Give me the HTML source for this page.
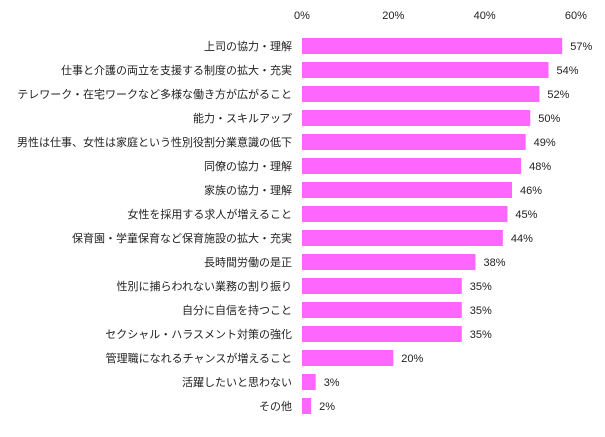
<!DOCTYPE html>
<html><head><meta charset="utf-8"><style>
body{margin:0;background:#fff;}
svg text{font-family:"Liberation Sans","Noto Sans CJK JP",sans-serif;font-size:11px;fill:#222;}
</style></head><body>
<svg width="605" height="432" xmlns="http://www.w3.org/2000/svg">
<g id="ticks"></g>
<g id="bars"></g>
</svg>
<script>
const categories=["上司の協力・理解","仕事と介護の両立を支援する制度の拡大・充実","テレワーク・在宅ワークなど多様な働き方が広がること","能力・スキルアップ","男性は仕事、女性は家庭という性別役割分業意識の低下","同僚の協力・理解","家族の協力・理解","女性を採用する求人が増えること","保育園・学童保育など保育施設の拡大・充実","長時間労働の是正","性別に捕らわれない業務の割り振り","自分に自信を持つこと","セクシャル・ハラスメント対策の強化","管理職になれるチャンスが増えること","活躍したいと思わない","その他"];
const values=[57,54,52,50,49,48,46,45,44,38,35,35,35,20,3,2];
const tickValues=[0,20,40,60];
const tickLabels=["0%","20%","40%","60%"];
const NS="http://www.w3.org/2000/svg";
const x0=302,scale=4.565,top0=38,step=24,bh=16;
const xs=v=>x0+v*scale;
const ticks=document.getElementById('ticks'),bars=document.getElementById('bars');
tickValues.forEach((v,i)=>{
  const t=document.createElementNS(NS,'text');
  
  
  t.setAttribute('x',xs(v));t.setAttribute('y',19);t.setAttribute('text-anchor','middle');
  t.textContent=tickLabels[i];ticks.appendChild(t);
});
categories.forEach((c,i)=>{
  const y=top0+i*step;
  const r=document.createElementNS(NS,'rect');
  
  
  r.setAttribute('x',x0);r.setAttribute('y',y);r.setAttribute('width',xs(values[i])-x0);r.setAttribute('height',bh);r.setAttribute('fill','#ff66ff');
  bars.appendChild(r);
  const l=document.createElementNS(NS,'text');
  
  
  l.setAttribute('x',292);l.setAttribute('y',y+12);l.setAttribute('text-anchor','end');
  l.textContent=c;bars.appendChild(l);
  const v=document.createElementNS(NS,'text');
  
  
  v.setAttribute('x',xs(values[i])+8);v.setAttribute('y',y+12);
  v.textContent=values[i]+'%';bars.appendChild(v);
});
</script>
</body></html>
